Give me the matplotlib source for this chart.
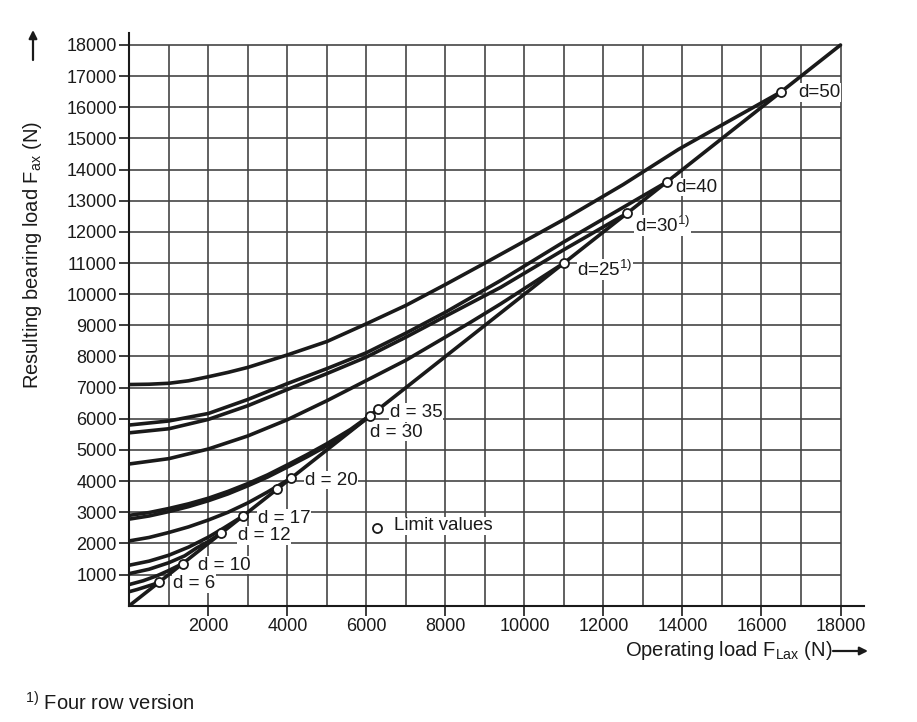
import numpy as np
import matplotlib; matplotlib.use('Agg')
import matplotlib.pyplot as plt

plt.rcParams['font.family'] = ['Liberation Sans', 'DejaVu Sans']
plt.rcParams['mathtext.fontset'] = 'custom'
plt.rcParams['mathtext.rm'] = 'Liberation Sans'
plt.rcParams['mathtext.it'] = 'Liberation Sans:italic'

# ---------------------------------------------------------------------------
# curves: (F_Lax, F_ax) points, each ends at its limit value
# ---------------------------------------------------------------------------
d6_x  = [0, 200, 400, 600, 760];          d6_y  = [450, 520, 600, 680, 760]
d10_x = [0, 350, 700, 1000, 1350];        d10_y = [680, 800, 960, 1130, 1350]
d12_x = [0, 500, 1000, 1400, 1700, 2000, 2330]
d12_y = [1030, 1170, 1380, 1600, 1850, 2060, 2330]
d17_x = [0, 500, 1000, 1500, 2000, 2400, 2880]
d17_y = [1300, 1430, 1620, 1880, 2200, 2500, 2880]
d20_x = [0, 500, 1000, 1500, 2000, 2500, 3000, 3500, 4100]
d20_y = [2080, 2190, 2350, 2530, 2750, 3000, 3300, 3650, 4100]
d30_x = [0, 500, 1000, 1500, 2000, 2500, 3000, 3500, 4000, 4500, 5000, 5500, 6100]
d30_y = [2780, 2880, 3020, 3180, 3370, 3590, 3850, 4130, 4450, 4780, 5130, 5530, 6100]
d35_x = [0, 500, 1000, 1500, 2000, 2500, 3000, 3500, 4000, 4500, 5000, 5600, 6300]
d35_y = [2900, 2990, 3120, 3270, 3450, 3670, 3920, 4200, 4520, 4850, 5200, 5660, 6300]
d25r_x = [0, 1000, 2000, 3000, 4000, 5000, 6000, 7000, 8600, 9400, 11000]
d25r_y = [4550, 4720, 5030, 5450, 5970, 6580, 7230, 7880, 9070, 9690, 11000]
d30r_x = [0, 1000, 2000, 3000, 4000, 5000, 6000, 7000, 8000, 9400, 11000, 12600]
d30r_y = [5550, 5680, 5980, 6420, 6940, 7450, 7980, 8620, 9290, 10220, 11430, 12600]
d40_x = [0, 1000, 2000, 3000, 4000, 5000, 6000, 7000, 8000, 9400, 11000, 13600]
d40_y = [5800, 5930, 6170, 6620, 7130, 7610, 8120, 8750, 9420, 10440, 11680, 13600]
d50_x = [0, 500, 1000, 1500, 2000, 2500, 3000, 4000, 5000, 6000, 7000, 8000,
         9000, 10000, 11000, 12500, 13900, 16500]
d50_y = [7100, 7110, 7140, 7220, 7350, 7490, 7650, 8050, 8480, 9050, 9640, 10310,
         11000, 11700, 12400, 13520, 14650, 16500]

diag_x = [0, 18000]
diag_y = [0, 18000]

# limit values (open circles) on the diagonal
limit_vals = [760, 1350, 2330, 2880, 3750, 4100, 6100, 6300, 11000, 12600, 13600, 16500]

# labels: text, x, y (data units, left edge / vertical centre)
labels = [
    ('d = 6', 1110, 705), ('d = 10', 1730, 1305), ('d = 12', 2750, 2250),
    ('d = 17', 3260, 2810), ('d = 20', 4440, 4030), ('d = 35', 6590, 6200),
    ('d = 30', 6100, 5570), (r'd=25$^{1)}$', 11340, 10790),
    (r'd=30$^{1)}$', 12800, 12200), ('d=40', 13810, 13440), ('d=50', 16920, 16480),
]

yticks = list(range(1000, 18001, 1000))
xticks = list(range(2000, 18001, 2000))
grid = list(range(1000, 18001, 1000))

fig = plt.figure(figsize=(9.17, 7.22), dpi=100)
ax = fig.add_axes([0.141, 0.1611, 0.8010, 0.7934])
ax.set_xlim(0, 18590)
ax.set_ylim(0, 18390)

# grid drawn by hand so it stops at 18000
ax.vlines(grid, 0, 18000, color='#454545', lw=1.2, zorder=1)
ax.hlines(grid, 0, 18000, color='#454545', lw=1.2, zorder=1)

curves = [(d6_x, d6_y), (d10_x, d10_y), (d12_x, d12_y), (d17_x, d17_y),
          (d20_x, d20_y), (d30_x, d30_y), (d35_x, d35_y), (d25r_x, d25r_y),
          (d30r_x, d30r_y), (d40_x, d40_y), (d50_x, d50_y), (diag_x, diag_y)]
for cx, cy in curves:
    ax.plot(cx, cy, color='#1a1a1a', lw=2.6, solid_joinstyle='round',
            solid_capstyle='round', zorder=3)

ax.plot(limit_vals, limit_vals, 'o', ms=6.5, mfc='white', mec='#1a1a1a',
        mew=1.3, zorder=5)

for txt, tx, ty in labels:
    ax.text(tx, ty, txt, fontsize=13.5, ha='left', va='center', zorder=4,
            color='#1a1a1a', bbox=dict(facecolor='white', edgecolor='none', pad=0.6))

# legend for the limit markers
ax.plot([6266], [2480], 'o', ms=6.5, mfc='white', mec='#1a1a1a', mew=1.3, zorder=5)
ax.text(6700, 2560, 'Limit values', fontsize=13.5, ha='left', va='center', zorder=4,
        color='#1a1a1a', bbox=dict(facecolor='white', edgecolor='none', pad=0.6))

ax.spines['top'].set_visible(False)
ax.spines['right'].set_visible(False)
for s in ('left', 'bottom'):
    ax.spines[s].set_linewidth(1.5)
    ax.spines[s].set_color('#1a1a1a')

ax.set_yticks(yticks)
ax.set_xticks(xticks)
ax.tick_params(direction='out', length=7, width=1.2, labelsize=13, pad=2,
               colors='#1a1a1a')

# axis titles with arrows
fig.text(33 / 917, 1 - 255 / 722, r'Resulting bearing load $\mathregular{F_{ax}}$ (N)',
         rotation=90, ha='center', va='center', fontsize=14.5, color='#1a1a1a')
fig.text(833 / 917, 1 - 650 / 722, r'Operating load $\mathregular{F_{Lax}}$ (N)',
         ha='right', va='center', fontsize=14.5, color='#1a1a1a')
ax.annotate('', xy=(868 / 917, 1 - 651 / 722), xytext=(833 / 917, 1 - 651 / 722),
            xycoords='figure fraction', textcoords='figure fraction',
            arrowprops=dict(arrowstyle='-|>', lw=1.6, color='#1a1a1a',
                            mutation_scale=12, shrinkA=0, shrinkB=0))
ax.annotate('', xy=(33 / 917, 1 - 30 / 722), xytext=(33 / 917, 1 - 60 / 722),
            xycoords='figure fraction', textcoords='figure fraction',
            arrowprops=dict(arrowstyle='-|>', lw=1.6, color='#1a1a1a',
                            mutation_scale=12, shrinkA=0, shrinkB=0))

fig.text(25 / 917, 1 - 703 / 722, r'$\mathregular{^{1)}}$ Four row version',
         ha='left', va='center', fontsize=14.5, color='#1a1a1a')

fig.savefig('out.png', dpi=100, facecolor='white')
